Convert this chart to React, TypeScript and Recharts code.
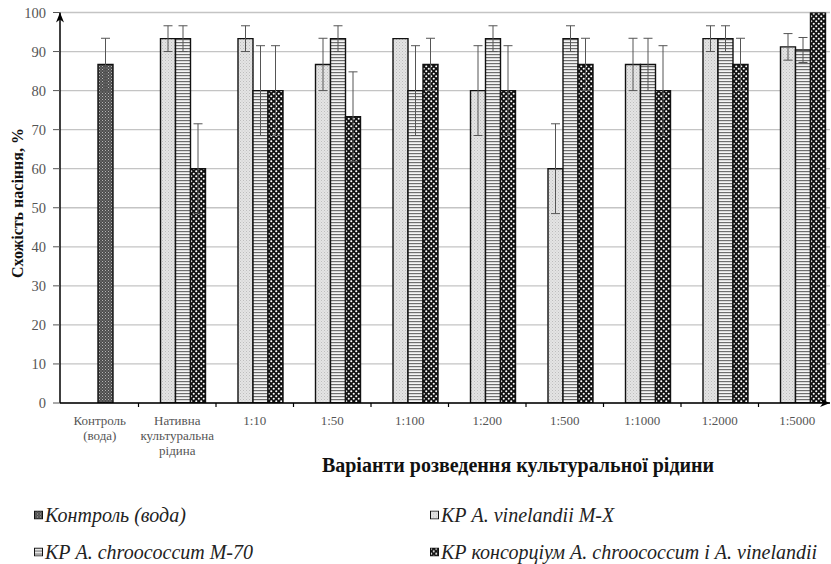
import { Bar, BarChart, CartesianGrid, ErrorBar, XAxis, YAxis } from "recharts";

const categories = [
  "Контроль|(вода)",
  "Нативна|культуральна|рідина",
  "1:10",
  "1:50",
  "1:100",
  "1:200",
  "1:500",
  "1:1000",
  "1:2000",
  "1:5000",
];

const control = [86.7, null, null, null, null, null, null, null, null, null];
const controlErr = [6.7, 0, 0, 0, 0, 0, 0, 0, 0, 0];

const vinelandii = [null, 93.3, 93.3, 86.7, 93.3, 80, 60, 86.7, 93.3, 91.2];
const vinelandiiErr = [0, 3.3, 3.3, 6.7, 0, 11.5, 11.5, 6.7, 3.3, 3.4];

const chroococcum = [null, 93.3, 80, 93.3, 80, 93.3, 93.3, 86.7, 93.3, 90.4];
const chroococcumErr = [0, 3.3, 11.5, 3.3, 11.5, 3.3, 3.3, 6.7, 3.3, 3.2];

const consortium = [null, 60, 80, 73.3, 86.7, 80, 86.7, 80, 86.7, 100];
const consortiumErr = [0, 11.5, 11.5, 11.5, 6.7, 11.5, 6.7, 11.5, 6.7, 0];

const yTicks = [0, 10, 20, 30, 40, 50, 60, 70, 80, 90, 100];

const legendItems = [
  { name: "Контроль (вода)", fill: "url(#pControl)" },
  { name: "КР A. vinelandii M-X", fill: "url(#pVin)" },
  { name: "КР A. chroococcum M-70", fill: "url(#pChro)" },
  { name: "КР консорціум A. chroococcum і A. vinelandii", fill: "url(#pCons)" },
];

const data = categories.map((c, i) => ({
  cat: c,
  control: control[i],
  controlErr: controlErr[i],
  vin: vinelandii[i],
  vinErr: vinelandiiErr[i],
  chro: chroococcum[i],
  chroErr: chroococcumErr[i],
  cons: consortium[i],
  consErr: consortiumErr[i],
}));

const SERIF = "Liberation Serif";

function XTick(props: any) {
  const { x, y, payload, index } = props;
  const lines = String(payload.value).split("|");
  const half = payload.offset ?? 38.75;
  return (
    <g>
      {index < categories.length - 1 && (
        <line x1={x - 5 + half} x2={x - 5 + half} y1={y - 8} y2={y - 4} stroke="#000" strokeWidth={1.2} />
      )}
      <text x={x - 5} y={y + 14} textAnchor="middle" style={{ fontFamily: SERIF }} fontSize={13} fill="#555">
        {lines.map((l, k) => (
          <tspan key={k} x={x - 5} dy={k === 0 ? 0 : 15}>
            {l}
          </tspan>
        ))}
      </text>
    </g>
  );
}

const errProps = { width: 4.5, stroke: "#555", strokeWidth: 1, direction: "y" as const };

export default function App() {
  return (
    <div
      style={{
        position: "absolute",
        left: 0,
        top: 0,
        width: 831,
        height: 564,
        background: "#fff",
        fontFamily: SERIF,
      }}
    >
      <BarChart
        width={831}
        height={564}
        data={data}
        margin={{ top: 12.5, right: 1, bottom: 101, left: 0 }}
        barCategoryGap={17}
        barGap={0}
      >
        <defs>
          <pattern id="pControl" width="3" height="3" patternUnits="userSpaceOnUse">
            <rect width="3" height="3" fill="#4d4d4d" />
            <rect x="0" y="0" width="1" height="1" fill="#b5b5b5" />
            <rect x="1.5" y="1.5" width="1" height="1" fill="#9a9a9a" />
          </pattern>
          <pattern id="pVin" width="3" height="3" patternUnits="userSpaceOnUse">
            <rect width="3" height="3" fill="#e4e4e4" />
            <rect x="0" y="0" width="1" height="1" fill="#bdbdbd" />
            <rect x="1.5" y="1.5" width="1" height="1" fill="#c8c8c8" />
          </pattern>
          <pattern id="pChro" width="3" height="3" patternUnits="userSpaceOnUse">
            <rect width="3" height="3" fill="#f4f4f4" />
            <rect x="0" y="0" width="3" height="1.2" fill="#6e6e6e" />
          </pattern>
          <pattern id="pCons" width="5" height="5" patternUnits="userSpaceOnUse">
            <rect width="5" height="5" fill="#111" />
            <circle cx="1.25" cy="1.25" r="1.05" fill="#fff" />
            <circle cx="3.75" cy="3.75" r="1.05" fill="#fff" />
          </pattern>
          <marker id="arrowUp" markerWidth="10" markerHeight="10" refX="10" refY="5" orient="auto-start-reverse" markerUnits="userSpaceOnUse">
            <path d="M0,1 L10,5 L0,9 L3,5 Z" fill="#000" />
          </marker>
        </defs>
        <CartesianGrid horizontal vertical={false} stroke="#c4c4c4" strokeWidth={1.3} />
        <XAxis
          dataKey="cat"
          interval={0}
          height={60}
          padding={{ left: 6, right: -11 }}
          axisLine={{ stroke: "#000", strokeWidth: 1.5, markerEnd: "url(#arrowUp)" }}
          tickLine={false}
          tick={<XTick />}
        />
        <YAxis
          width={60}
          domain={[0, 100]}
          ticks={yTicks}
          interval={0}
          allowDataOverflow
          axisLine={{ stroke: "#000", strokeWidth: 1.5, markerStart: "url(#arrowUp)" }}
          tickLine={{ stroke: "#555" }}
          tickSize={7}
          tickMargin={7}
          tick={{ fontFamily: SERIF, fontSize: 14.5, fill: "#555", style: { fontFamily: SERIF } }}
        />
        <Bar dataKey="vin" stackId="a" fill="url(#pVin)" stroke="#111" strokeWidth={1.4} isAnimationActive={false}>
          <ErrorBar dataKey="vinErr" {...errProps} />
        </Bar>
        <Bar dataKey="control" stackId="b" fill="url(#pControl)" stroke="#111" strokeWidth={1.4} isAnimationActive={false}>
          <ErrorBar dataKey="controlErr" {...errProps} />
        </Bar>
        <Bar dataKey="chro" stackId="b" fill="url(#pChro)" stroke="#111" strokeWidth={1.4} isAnimationActive={false}>
          <ErrorBar dataKey="chroErr" {...errProps} />
        </Bar>
        <Bar dataKey="cons" stackId="c" fill="url(#pCons)" stroke="#111" strokeWidth={1.4} isAnimationActive={false}>
          <ErrorBar dataKey="consErr" {...errProps} />
        </Bar>
      </BarChart>

      <div
        style={{
          position: "absolute",
          left: 18,
          top: 203,
          transform: "translate(-50%, -50%) rotate(-90deg)",
          whiteSpace: "nowrap",
          fontWeight: "bold",
          fontSize: 16,
          color: "#111",
        }}
      >
        Схожість насіння, %
      </div>

      <div
        style={{
          position: "absolute",
          left: 518,
          top: 465,
          transform: "translate(-50%, -50%)",
          whiteSpace: "nowrap",
          fontWeight: "bold",
          fontSize: 20,
          color: "#111",
        }}
      >
        Варіанти розведення культуральної рідини
      </div>

      {legendItems.map((item, i) => (
        <div
          key={item.name}
          style={{
            position: "absolute",
            left: i % 2 === 0 ? 34 : 430,
            top: i < 2 ? 515 : 552,
            transform: "translateY(-50%)",
            display: "flex",
            alignItems: "center",
            whiteSpace: "nowrap",
            fontStyle: "italic",
            fontSize: 20,
            color: "#222",
          }}
        >
          <svg width={9} height={9} style={{ marginRight: 2 }}>
            <rect x={0.5} y={0.5} width={8} height={8} fill={item.fill} stroke="#111" strokeWidth={1} />
          </svg>
          {item.name}
        </div>
      ))}
    </div>
  );
}
